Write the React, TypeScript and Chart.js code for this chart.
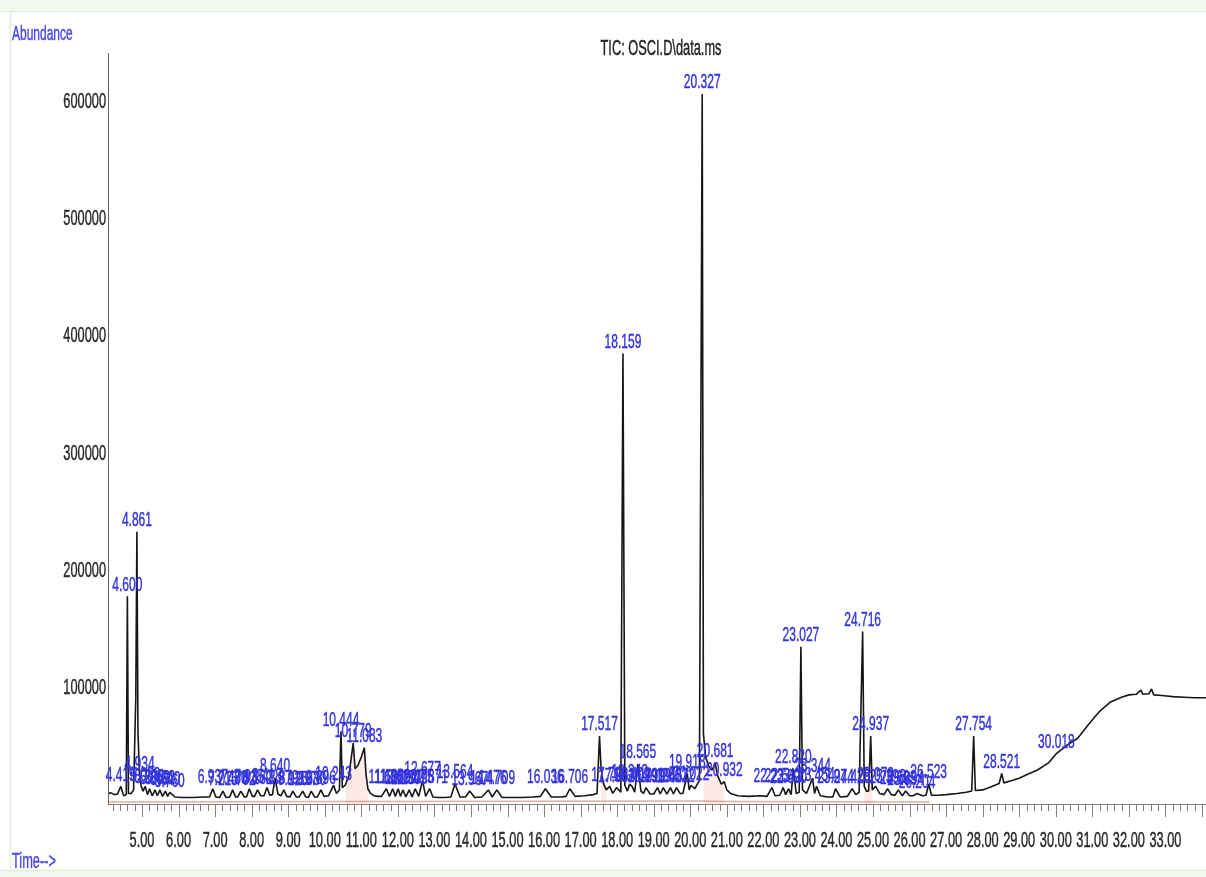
import React, { useEffect, useRef } from 'react';
import { Chart, registerables } from 'chart.js';

Chart.register(...registerables);

// Total ion chromatogram: retention time (min) and abundance
const retentionTimes = [
  4.07, 4.15, 4.25, 4.33, 4.419, 4.50, 4.57, 4.600, 4.63, 4.70, 4.77, 4.83, 4.861, 4.89, 4.934, 4.98,
  5.03, 5.088, 5.15, 5.208, 5.28, 5.359, 5.42, 5.492, 5.56, 5.640, 5.70, 5.760, 5.90, 6.10, 6.40, 6.70,
  6.85, 6.937, 7.02, 7.12, 7.215, 7.30, 7.40, 7.480, 7.56, 7.62, 7.702, 7.80, 7.86, 7.935, 8.02, 8.08,
  8.162, 8.25, 8.34, 8.418, 8.50, 8.57, 8.640, 8.72, 8.80, 8.879, 8.96, 9.05, 9.125, 9.22, 9.30, 9.397,
  9.48, 9.55, 9.630, 9.72, 9.80, 9.896, 9.98, 10.10, 10.243, 10.32, 10.40, 10.444, 10.48, 10.56, 10.66,
  10.779, 10.83, 10.91, 11.00, 11.083, 11.13, 11.18, 11.25, 11.35, 11.45, 11.55, 11.686, 11.77, 11.859,
  11.93, 12.010, 12.07, 12.137, 12.22, 12.309, 12.39, 12.475, 12.57, 12.677, 12.76, 12.871, 12.96,
  13.10, 13.30, 13.45, 13.564, 13.70, 13.85, 13.967, 14.10, 14.30, 14.476, 14.58, 14.709, 14.85, 15.10,
  15.40, 15.70, 15.90, 16.036, 16.20, 16.45, 16.60, 16.706, 16.85, 17.10, 17.35, 17.45, 17.517, 17.56,
  17.62, 17.70, 17.796, 17.88, 17.983, 18.10, 18.159, 18.21, 18.28, 18.342, 18.409, 18.48, 18.565,
  18.65, 18.72, 18.791, 18.90, 19.00, 19.104, 19.18, 19.262, 19.36, 19.457, 19.54, 19.622, 19.72, 19.80,
  19.918, 19.97, 20.022, 20.12, 20.25, 20.327, 20.36, 20.42, 20.51, 20.60, 20.681, 20.75, 20.85, 20.932,
  21.00, 21.10, 21.30, 21.60, 21.90, 22.10, 22.233, 22.32, 22.45, 22.542, 22.61, 22.690, 22.76, 22.820,
  22.90, 22.98, 23.027, 23.07, 23.18, 23.344, 23.40, 23.454, 23.56, 23.75, 23.90, 23.974, 24.10, 24.30,
  24.428, 24.53, 24.62, 24.716, 24.76, 24.82, 24.88, 24.937, 24.98, 25.072, 25.18, 25.30, 25.398, 25.50,
  25.60, 25.693, 25.80, 25.894, 26.00, 26.10, 26.204, 26.35, 26.45, 26.523, 26.60, 26.80, 27.00, 27.30,
  27.55, 27.70, 27.754, 27.80, 28.00, 28.25, 28.45, 28.521, 28.58, 28.80, 29.00, 29.20, 29.50, 29.80,
  30.018, 30.30, 30.60, 30.90, 31.20, 31.50, 31.80, 32.00, 32.20, 32.33, 32.38, 32.55, 32.62, 32.68,
  32.90, 33.20, 33.50, 33.80, 34.11,
];

const abundances = [
  9000, 9500, 8000, 8500, 15000, 7000, 8000, 177000, 9000, 9000, 12000, 90000, 232000, 60000, 24000, 15000,
  11000, 15000, 8000, 13000, 7000, 12000, 7000, 12000, 6500, 11000, 6500, 10000, 6000, 5500, 5500, 6000,
  6000, 13000, 6000, 5500, 11000, 5500, 6000, 12000, 6000, 6000, 11000, 6000, 6000, 13000, 6500, 6500,
  12000, 7000, 7000, 14000, 7500, 8000, 22000, 8500, 7000, 12000, 6500, 6000, 11000, 6000, 6000, 11000,
  6000, 5500, 11000, 6000, 6000, 12000, 6500, 7000, 16000, 9000, 12000, 62000, 14000, 16000, 24000,
  52000, 30000, 33000, 40000, 48000, 25000, 13000, 9000, 7000, 6500, 6500, 13000, 6500, 13000,
  6500, 13000, 6500, 12000, 6000, 12000, 6000, 13000, 6500, 20000, 6500, 13000, 6000,
  5500, 5500, 6000, 17000, 6000, 6000, 11000, 5500, 6000, 12000, 6000, 12000, 5500, 5500,
  5500, 6000, 6500, 13000, 6000, 6000, 6500, 13000, 6500, 7000, 8000, 9000, 58000, 30000,
  18000, 12000, 15000, 9000, 14000, 10000, 384000, 16000, 11000, 17000, 15000, 10000, 34000,
  11000, 9000, 14000, 8500, 8500, 14000, 8500, 14000, 8500, 14000, 8500, 14000, 9000, 9000,
  26000, 12000, 16000, 13000, 20000, 605000, 60000, 40000, 32000, 29000, 35000, 24000, 17000, 19000,
  12000, 9000, 7000, 6500, 7000, 6500, 14000, 7000, 7500, 14000, 8000, 13000, 8000, 30000,
  9000, 10000, 134000, 12000, 9000, 22000, 9000, 15000, 7000, 6000, 6000, 13000, 6000, 6500,
  13000, 8000, 10000, 147000, 15000, 11000, 11000, 58000, 12000, 15000, 9000, 8000, 13000, 8000,
  7500, 12000, 7000, 11000, 7000, 7000, 9000, 7000, 7500, 17000, 7500, 7500, 8000, 9000,
  10000, 11000, 58000, 11500, 12000, 15000, 17500, 26000, 18000, 20000, 22000, 25000, 29000, 35000,
  43000, 50000, 56000, 68000, 79000, 87000, 91000, 93000, 93500, 97000, 93500, 94000, 98000, 93000,
  92500, 91500, 91000, 90500, 90500,
];

// Integrated peak labels (retention times)
const peakLabels = [
  '4.419', '4.600', '4.861', '4.934', '5.088', '5.208', '5.359', '5.492', '5.640', '5.760', '6.937',
  '7.215', '7.480', '7.702', '7.935', '8.162', '8.418', '8.640', '8.879', '9.125', '9.397', '9.630',
  '9.896', '10.243', '10.444', '10.779', '11.083', '11.686', '11.859', '12.010', '12.137', '12.309',
  '12.475', '12.677', '12.871', '13.564', '13.967', '14.476', '14.709', '16.036', '16.706', '17.517',
  '17.796', '17.983', '18.159', '18.342', '18.409', '18.565', '18.791', '19.104', '19.262', '19.457',
  '19.622', '19.918', '20.022', '20.327', '20.681', '20.932', '22.233', '22.542', '22.690', '22.820',
  '23.027', '23.344', '23.454', '23.974', '24.428', '24.716', '24.937', '25.072', '25.398', '25.693',
  '25.894', '26.204', '26.523', '27.754', '28.521', '30.018',
];

const timeTickLabels = [
  '5.00', '6.00', '7.00', '8.00', '9.00', '10.00', '11.00', '12.00', '13.00', '14.00', '15.00',
  '16.00', '17.00', '18.00', '19.00', '20.00', '21.00', '22.00', '23.00', '24.00', '25.00', '26.00',
  '27.00', '28.00', '29.00', '30.00', '31.00', '32.00', '33.00',
];

const abundanceTickLabels = ['100000', '200000', '300000', '400000', '500000', '600000'];

// Integrated windows shaded under the trace (start, end in min)
const integratedRanges = [
  [10.56, 11.18],
  [17.56, 17.70],
  [20.36, 20.932],
  [24.76, 24.98],
];

// Integration baseline drawn along the bottom of the integrated region
const integrationBaseTimes = [4.1, 10.5, 11.2, 20.3, 21.0, 26.55];
const integrationBaseValues = [1800, 2200, 2200, 2500, 2200, 1800];

const TITLE = 'TIC: OSCI.D\\data.ms';
const Y_TITLE = 'Abundance';
const X_TITLE = 'Time-->';

const TIME_MIN = 4.07;
const TIME_MAX = 34.11;
const ABUND_MAX = 640000;

const FONT_FAMILY = '"Liberation Sans", Arial, Helvetica, sans-serif';
const SX = 0.8;
const SY = 1.36;

function drawText(
  ctx: CanvasRenderingContext2D,
  text: string,
  x: number,
  yCenter: number,
  size: number,
  color: string,
  align: CanvasTextAlign,
  weight = 0.35,
) {
  ctx.save();
  const capH = size * 0.716 * SY;
  ctx.translate(x, yCenter + capH / 2);
  ctx.scale(SX, SY);
  ctx.font = `${size}px ${FONT_FAMILY}`;
  ctx.fillStyle = color;
  ctx.strokeStyle = color;
  ctx.lineWidth = weight;
  ctx.textAlign = align;
  ctx.textBaseline = 'alphabetic';
  ctx.fillText(text, 0, 0);
  if (weight > 0) ctx.strokeText(text, 0, 0);
  ctx.restore();
}

const chromatogramDecor = {
  id: 'chromatogramDecor',
  beforeDraw(chart: any) {
    const { ctx, width, height } = chart;
    ctx.save();
    ctx.fillStyle = '#ffffff';
    ctx.fillRect(0, 0, width, height);
    // light window frame
    ctx.fillStyle = '#f3f9f1';
    ctx.fillRect(0, 0, width, 11);
    ctx.fillRect(0, height - 6, width, 6);
    ctx.strokeStyle = '#e2efdf';
    ctx.lineWidth = 1.5;
    ctx.beginPath();
    ctx.moveTo(0, 11.5);
    ctx.lineTo(width, 11.5);
    ctx.moveTo(10.5, 11.5);
    ctx.lineTo(10.5, height - 6);
    ctx.moveTo(0, height - 6.5);
    ctx.lineTo(width, height - 6.5);
    ctx.stroke();
    ctx.restore();
  },
  afterDatasetsDraw(chart: any) {
    const { ctx, chartArea } = chart;
    const xs = chart.scales.x;
    const ys = chart.scales.y;
    const { left, right, top, bottom } = chartArea;

    ctx.save();
    // y axis
    ctx.strokeStyle = '#606060';
    ctx.lineWidth = 1;
    ctx.beginPath();
    ctx.moveTo(left + 0.5, top);
    ctx.lineTo(left + 0.5, bottom);
    ctx.stroke();

    // x axis with minor (0.2 min) and major (1 min) ticks
    ctx.strokeStyle = '#8a7f78';
    ctx.beginPath();
    ctx.moveTo(left, bottom + 0.5);
    ctx.lineTo(right, bottom + 0.5);
    const kStart = Math.ceil(TIME_MIN * 5);
    const kEnd = Math.floor(TIME_MAX * 5);
    for (let k = kStart; k <= kEnd; k++) {
      const px = Math.round(xs.getPixelForValue(k / 5)) + 0.5;
      const major = k % 5 === 0;
      ctx.moveTo(px, bottom);
      ctx.lineTo(px, bottom + (major ? 13 : 7));
    }
    ctx.stroke();
    ctx.restore();

    // tick labels
    timeTickLabels.forEach((label) => {
      drawText(ctx, label, xs.getPixelForValue(parseFloat(label)), bottom + 35, 16, '#2b2b2b', 'center');
    });
    abundanceTickLabels.forEach((label) => {
      drawText(ctx, label, left - 2, ys.getPixelForValue(parseFloat(label)), 16, '#2b2b2b', 'right');
    });

    // peak retention time labels at each apex
    peakLabels.forEach((label) => {
      const t = parseFloat(label);
      const idx = retentionTimes.indexOf(t);
      if (idx < 0) return;
      const px = xs.getPixelForValue(t);
      const py = ys.getPixelForValue(abundances[idx]);
      drawText(ctx, label, px, py - 13, 15, '#3434de', 'center');
    });

    // titles
    drawText(ctx, TITLE, (left + right) / 2 + 4, 47, 16, '#262626', 'center');
    drawText(ctx, Y_TITLE, 12, 33, 15, '#4b4be6', 'left');
    drawText(ctx, X_TITLE, 12, 860, 16, '#4b4be6', 'left');
  },
};

const ticPoints = retentionTimes.map((t, i) => ({ x: t, y: abundances[i] }));

const integratedFills = integratedRanges.map(([start, end]) => ({
  data: ticPoints.filter((p) => p.x >= start && p.x <= end),
  borderWidth: 0,
  borderColor: 'rgba(0,0,0,0)',
  backgroundColor: 'rgba(248, 190, 180, 0.32)',
  fill: 'origin',
  pointRadius: 0,
}));

export default function App() {
  const canvasRef = useRef<HTMLCanvasElement | null>(null);

  useEffect(() => {
    document.body.style.margin = '0';
    const canvas = canvasRef.current;
    if (!canvas) return;
    const chart = new Chart(canvas, {
      type: 'line',
      data: {
        datasets: [
          {
            data: ticPoints,
            borderColor: '#161616',
            borderWidth: 1.6,
            borderJoinStyle: 'bevel',
            pointRadius: 0,
            fill: false,
            tension: 0,
          },
          {
            data: integrationBaseTimes.map((t, i) => ({ x: t, y: integrationBaseValues[i] })),
            borderColor: 'rgba(190, 100, 70, 0.5)',
            borderWidth: 1.5,
            pointRadius: 0,
            fill: false,
          },
          ...integratedFills,
        ] as any,
      },
      options: {
        animation: false,
        responsive: false,
        devicePixelRatio: 1,
        layout: { padding: { left: 108, top: 53, right: 0, bottom: 73 } },
        plugins: {
          legend: { display: false },
          tooltip: { enabled: false },
          title: { display: false },
        },
        scales: {
          x: { type: 'linear', min: TIME_MIN, max: TIME_MAX, display: false },
          y: { type: 'linear', min: 0, max: ABUND_MAX, display: false },
        },
      },
      plugins: [chromatogramDecor],
    });
    return () => chart.destroy();
  }, []);

  return (
    <div style={{ position: 'fixed', left: 0, top: 0, width: 1206, height: 877 }}>
      <canvas ref={canvasRef} width={1206} height={877} style={{ display: 'block' }} />
    </div>
  );
}
